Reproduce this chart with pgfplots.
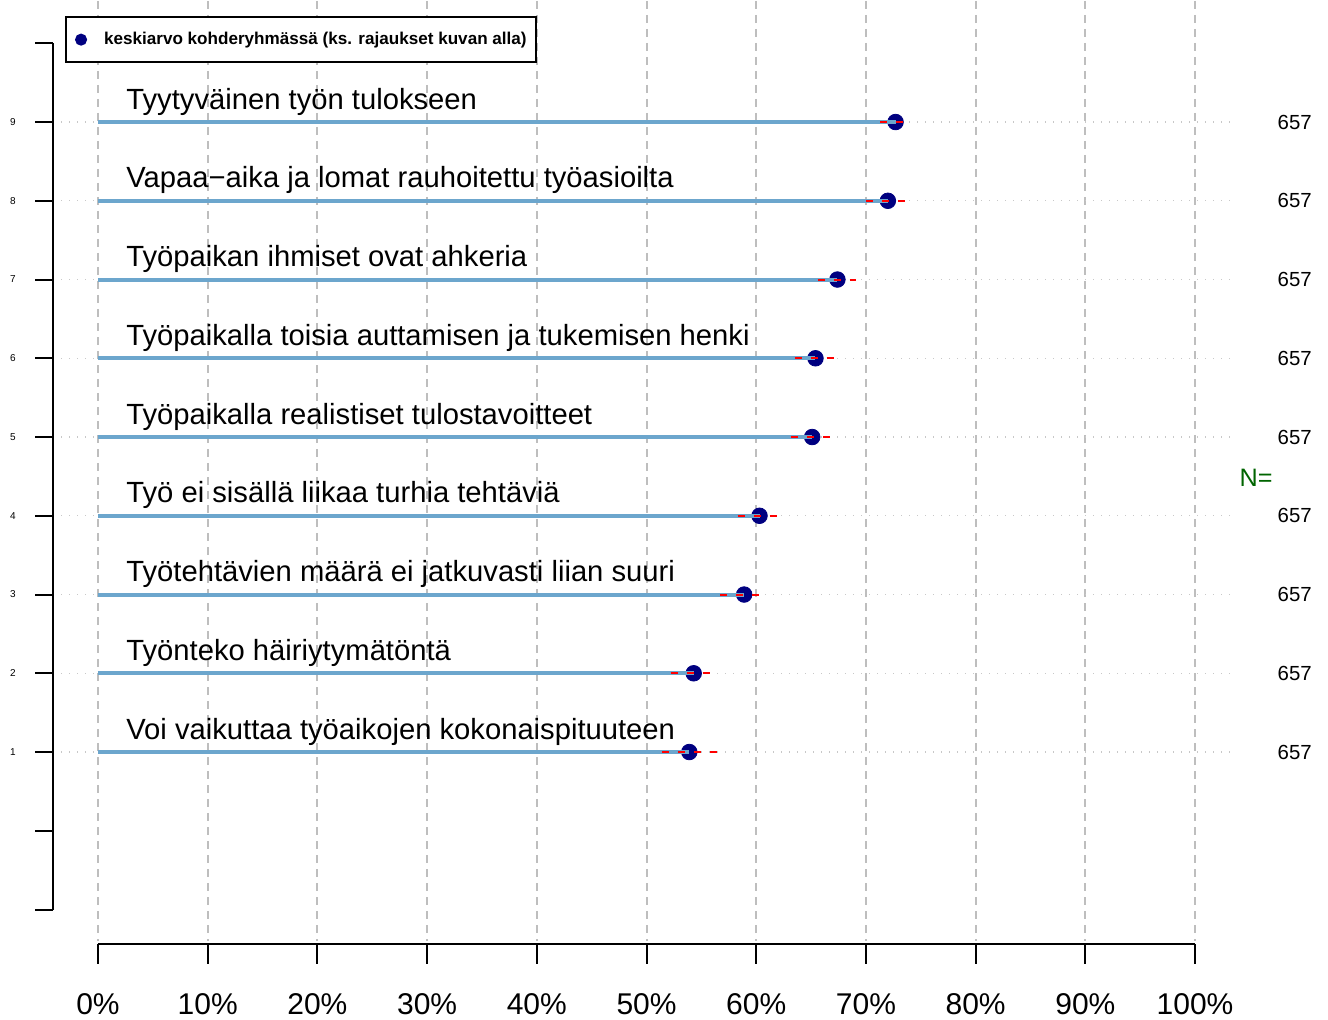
\documentclass[border=0pt]{standalone}
\usepackage{pgfplots}
\pgfplotsset{compat=1.18}
\usepackage{pgfplotstable}
\usepackage{fontspec}
\setmainfont{Liberation Sans}
\definecolor{barblue}{HTML}{6CA6CD}
\definecolor{navyc}{HTML}{000080}
\definecolor{gridgrey}{HTML}{BEBEBE}
\definecolor{dotgrey}{HTML}{C8C8C8}
\definecolor{ngreen}{HTML}{006400}

\pgfplotstableread{
y mean lo hi
9 72.7 71.3 73.6
8 72.0 70.0 73.6
7 67.4 65.6 69.1
6 65.4 63.5 67.1
5 65.1 63.2 66.8
4 60.3 58.3 61.9
3 58.9 56.7 60.3
2 54.3 52.2 55.8
1 53.9 51.4 56.4
}\data

\begin{document}
\begin{tikzpicture}
\begin{axis}[
  width=664pt, height=509pt, scale only axis,
  xmin=-8.933, xmax=112.12, ymin=-2.390, ymax=10.537,
  hide axis, clip=false, clip mode=individual,
  legend style={at={(rel axis cs:0.0490,0.9853)}, anchor=north west,
    draw=black, line width=1pt, inner xsep=4.5pt, inner ysep=7.5pt,
    font=\bfseries\fontsize{8.55}{10}\selectfont,
    nodes={inner sep=0pt}, column sep=8.5pt},
  legend cell align=left,
]
\path (rel axis cs:0,0) rectangle (rel axis cs:1,1);
% vertical dashed grid
\pgfplotsinvokeforeach{0,10,...,100}{
  \draw[gridgrey, line width=1pt, dash pattern=on 4pt off 3pt] (axis cs:#1,10.537) -- (axis cs:#1,-1.40);
}
% dotted row guides
\pgfplotsinvokeforeach{1,...,9}{
  \addplot[forget plot, dotgrey, line width=0.6pt, dash pattern=on 0.6pt off 3.4pt, mark=none] coordinates {(-4.1,#1) (103.6,#1)};
}
% means
\addplot[only marks, mark=*, mark size=3.9pt, navyc, mark options={draw=none, fill=navyc},
  legend image code/.code={\fill[navyc] (0pt,0pt) circle (2.5pt);}]
  table[x=mean, y=y] {\data};
\addlegendentry{keskiarvo kohderyhmässä (ks. rajaukset kuvan alla)}
% bars
\addplot[forget plot, xcomb, barblue, line width=2pt, mark=none] table[x=mean, y=y] {\data};
% CI (lo to hi)
\addplot[forget plot, red, line width=1pt, dash pattern=on 3.5pt off 4.5pt, mark=none, unbounded coords=jump]
  coordinates {(71.3,9) (73.6,9) (nan,nan) (70.0,8) (73.6,8) (nan,nan)
               (65.6,7) (69.1,7) (nan,nan) (63.5,6) (67.1,6) (nan,nan)
               (63.2,5) (66.8,5) (nan,nan) (58.3,4) (61.9,4) (nan,nan)
               (56.7,3) (60.3,3) (nan,nan) (52.2,2) (55.8,2) (nan,nan)
               (51.4,1) (56.4,1)};
% left axis
\draw[line width=1pt] (axis cs:-4.1,-1) -- (axis cs:-4.1,10);
\pgfplotsinvokeforeach{-1,...,10}{
  \draw[line width=1pt] (axis cs:-4.1,#1) -- (axis cs:-5.74,#1);
}
\pgfplotsinvokeforeach{1,...,9}{
  \node[font=\fontsize{5}{6}\selectfont, inner sep=0pt] at (axis cs:-7.75,#1) {#1};
  \node[font=\fontsize{10.2}{12}\selectfont, inner sep=0pt, anchor=east] at (axis cs:110.67,#1) {657};
}
% bottom axis
\draw[line width=1pt] (axis cs:0,-1.438) -- (axis cs:100,-1.438);
\pgfplotsinvokeforeach{0,10,...,100}{
  \draw[line width=1pt] (axis cs:#1,-1.438) -- (axis cs:#1,-1.692);
  \node[font=\fontsize{15}{18}\selectfont, inner sep=0pt, anchor=base] at (axis cs:#1,-2.327) {#1\%};
}
% category labels
\begin{scope}[every node/.style={font=\fontsize{14.6}{17}\selectfont, inner sep=0pt, anchor=base west}]
\node at (axis cs:2.55,9.165) {Tyytyväinen työn tulokseen};
\node at (axis cs:2.55,8.165) {Vapaa−aika ja lomat rauhoitettu työasioilta};
\node at (axis cs:2.55,7.165) {Työpaikan ihmiset ovat ahkeria};
\node at (axis cs:2.55,6.165) {Työpaikalla toisia auttamisen ja tukemisen henki};
\node at (axis cs:2.55,5.165) {Työpaikalla realistiset tulostavoitteet};
\node at (axis cs:2.55,4.165) {Työ ei sisällä liikaa turhia tehtäviä};
\node at (axis cs:2.55,3.165) {Työtehtävien määrä ei jatkuvasti liian suuri};
\node at (axis cs:2.55,2.165) {Työnteko häiriytymätöntä};
\node at (axis cs:2.55,1.165) {Voi vaikuttaa työaikojen kokonaispituuteen};
\end{scope}
\node[font=\fontsize{12.6}{15}\selectfont, text=ngreen, inner sep=0pt] at (axis cs:105.56,4.479) {N=};
\end{axis}
\end{tikzpicture}
\end{document}
